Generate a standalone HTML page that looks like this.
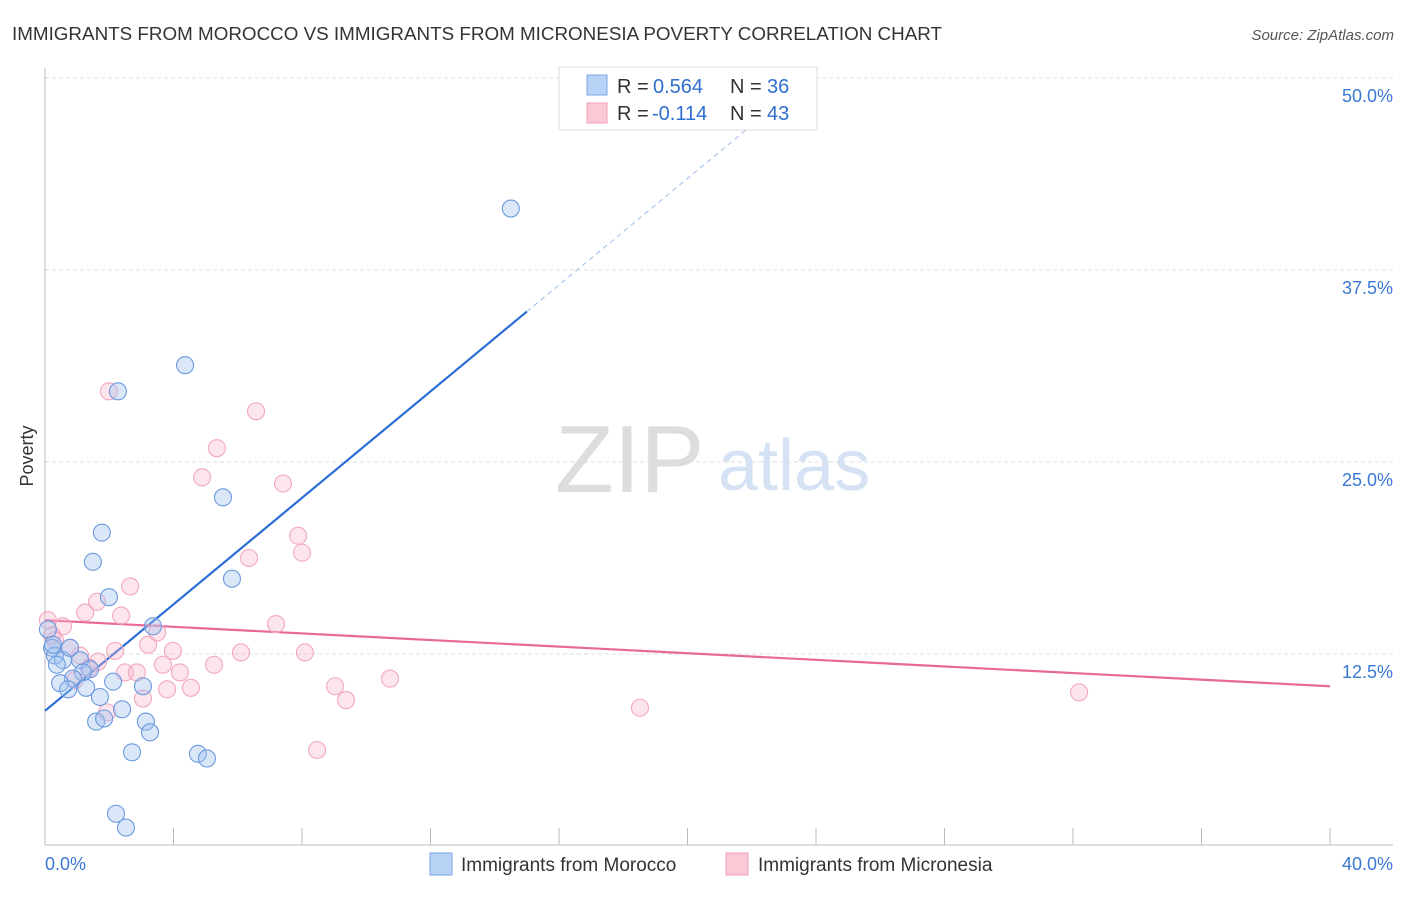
<!DOCTYPE html>
<html><head><meta charset="utf-8"><style>
body{margin:0;background:#fff;font-family:"Liberation Sans",sans-serif}
svg text{font-family:"Liberation Sans",sans-serif}
</style></head><body>
<svg id="c" width="1406" height="892">
<text x="12" y="40" font-size="18" fill="#333" textLength="930" lengthAdjust="spacingAndGlyphs">IMMIGRANTS FROM MOROCCO VS IMMIGRANTS FROM MICRONESIA POVERTY CORRELATION CHART</text>
<text x="1394" y="40" font-size="15" fill="#555" text-anchor="end" font-style="italic">Source: ZipAtlas.com</text>
<g>
<text x="555" y="492" font-size="96" font-family="Liberation Serif" fill="#ddd">ZIP</text>
<text x="718" y="490" font-size="72" fill="#d4e2f4">atlas</text></g>
<g id="grid"></g><g id="axes"></g><g id="trend"></g><g id="pts"></g>
<text x="33" y="456" font-size="18" fill="#333" transform="rotate(-90 33 456)" text-anchor="middle">Poverty</text>
<g>
<rect x="559" y="67" width="258" height="63" fill="#fff" stroke="#ddd"/>
<rect x="587" y="75" width="20" height="20" fill="#b8d2f6" stroke="#7aa6e6"/>
<rect x="587" y="103" width="20" height="20" fill="#fbc8d6" stroke="#f0a0b8"/>
<text x="617" y="93" font-size="20" fill="#333">R =</text>
<text x="653" y="93" font-size="20" fill="#2f6fd0">0.564</text>
<text x="730" y="93" font-size="20" fill="#333">N =</text>
<text x="767" y="93" font-size="20" fill="#2f6fd0">36</text>
<text x="617" y="120" font-size="20" fill="#333">R =</text>
<text x="652" y="120" font-size="20" fill="#2f6fd0">-0.114</text>
<text x="730" y="120" font-size="20" fill="#333">N =</text>
<text x="767" y="120" font-size="20" fill="#2f6fd0">43</text></g>
<g>
<rect x="430" y="853" width="22" height="22" fill="#b8d2f6" stroke="#7aa6e6"/>
<text x="461" y="871" font-size="19" fill="#333">Immigrants from Morocco</text>
<rect x="726" y="853" width="22" height="22" fill="#fbc8d6" stroke="#f0a0b8"/>
<text x="758" y="871" font-size="19" fill="#333">Immigrants from Micronesia</text></g>
</svg>
<script>
const yTicks=[12.5,25,37.5,50];
const yTickLabels=["12.5%","25.0%","37.5%","50.0%"];
const xTickLabels=["0.0%","40.0%"];
const moroccoX=[14.5,4.36,2.27,5.54,1.77,1.49,5.82,1.99,3.36,0.22,0.31,0.56,0.78,1.09,1.40,1.18,0.87,0.47,0.72,1.28,1.71,2.12,3.05,2.40,1.59,1.84,3.14,3.27,2.71,4.76,5.04,2.21,2.52,0.37,0.09,0.25];
const moroccoY=[41.5,31.3,29.6,22.7,20.4,18.5,17.4,16.2,14.3,12.9,12.4,12.1,12.9,12.1,11.5,11.3,10.9,10.6,10.2,10.3,9.7,10.7,10.4,8.9,8.1,8.3,8.1,7.4,6.1,6.0,5.7,2.1,1.2,11.8,14.1,13.1];
const microX=[1.99,6.57,5.35,4.89,7.41,7.88,8.0,6.35,2.65,1.62,2.37,1.25,0.09,0.56,0.22,7.19,3.49,0.78,1.09,2.18,3.21,3.98,8.09,6.10,1.65,1.37,2.49,2.86,3.67,4.20,5.26,10.74,9.03,3.80,4.54,9.37,3.05,1.93,18.52,32.19,8.47,0.31,0.93];
const microY=[29.6,28.3,25.9,24.0,23.6,20.2,19.1,18.75,16.9,15.9,15.0,15.2,14.7,14.3,13.7,14.45,13.9,12.9,12.4,12.7,13.1,12.7,12.6,12.6,12.0,11.6,11.3,11.3,11.8,11.3,11.8,10.9,10.4,10.2,10.3,9.5,9.6,8.7,9.0,10.0,6.25,13.4,10.8];
const moroccoTrend=[8.8,1.733];
const microTrend=[14.7,-0.1075];
const X=v=>45+v*32.125, Y=v=>846-v*15.36;
const ns="http://www.w3.org/2000/svg";
function mk(p,t,a){const e=document.createElementNS(ns,t);for(const k in a)e.setAttribute(k,a[k]);p.appendChild(e);return e;}
const grid=document.getElementById('grid'),axes=document.getElementById('axes'),trend=document.getElementById('trend'),pts=document.getElementById('pts');
yTicks.forEach((t,i)=>{
 const l=mk(grid,'line',{x1:45,x2:1393,y1:Y(t),y2:Y(t),stroke:'#ddd','stroke-dasharray':'4,3'});
 
 
 const tx=mk(grid,'text',{x:1393,y:Y(t)+24,'font-size':18,fill:'#3a78d4','text-anchor':'end'});tx.textContent=yTickLabels[i];
 
 
});
let a=mk(axes,'line',{x1:45,x2:45,y1:68,y2:845,stroke:'#bbb'});


a=mk(axes,'line',{x1:45,x2:1393,y1:845,y2:845,stroke:'#bbb'});


for(let i=0;i<=10;i++){const t=mk(axes,'line',{x1:X(i*4),x2:X(i*4),y1:828,y2:845,stroke:'#bbb'});
 
 }
let t0=mk(axes,'text',{x:45,y:870,'font-size':18,fill:'#3a78d4'});t0.textContent=xTickLabels[0];


t0=mk(axes,'text',{x:1393,y:870,'font-size':18,fill:'#3a78d4','text-anchor':'end'});t0.textContent=xTickLabels[1];


function dot(x,y,f,s,n){const c=mk(pts,'circle',{cx:X(x),cy:Y(y),r:8.5,fill:f,stroke:s,'stroke-width':1.1});
 
 }
microX.forEach((x,i)=>dot(x,microY[i],'rgba(248,180,200,0.35)','#f2a8bf','micronesia-point'));
moroccoX.forEach((x,i)=>dot(x,moroccoY[i],'rgba(160,195,240,0.4)','#6c9ade','morocco-point'));
let tl=mk(trend,'line',{x1:X(0),y1:Y(moroccoTrend[0]),x2:X(15),y2:Y(moroccoTrend[0]+moroccoTrend[1]*15),stroke:'#2b6fd6','stroke-width':2.2});


tl=mk(trend,'line',{x1:X(15),y1:Y(moroccoTrend[0]+moroccoTrend[1]*15),x2:X(22.3),y2:Y(moroccoTrend[0]+moroccoTrend[1]*22.3),stroke:'#9dbbe6','stroke-width':1,'stroke-dasharray':'5,4'});


tl=mk(trend,'line',{x1:X(0),y1:Y(microTrend[0]),x2:X(40),y2:Y(microTrend[0]+microTrend[1]*40),stroke:'#e8689a','stroke-width':2.2});


</script>
</body></html>
